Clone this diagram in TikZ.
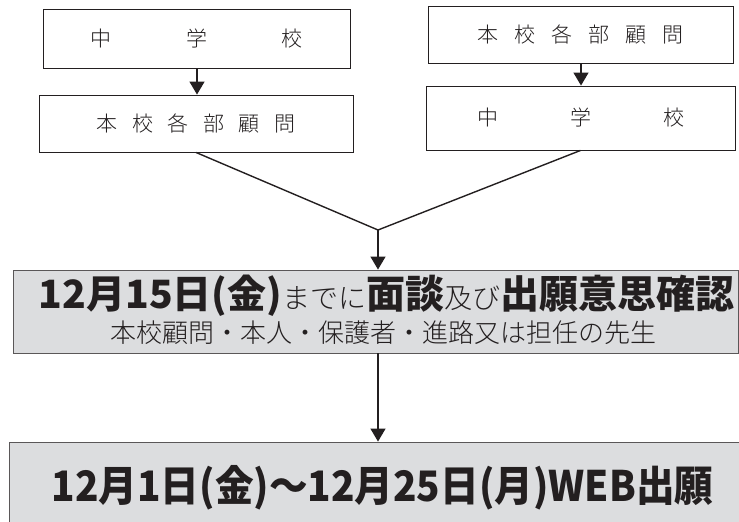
\documentclass[tikz,border=0pt]{standalone}
\usepackage{fontspec}
\usepackage{graphicx}
\usetikzlibrary{arrows.meta}
\newfontfamily\jp{Noto Sans CJK JP}
\newfontfamily\jplight{Noto Sans CJK JP}[UprightFont=* Light]
\definecolor{ink}{HTML}{231F20}
\definecolor{greyfill}{HTML}{DCDDDF}
\tikzset{
  whitebox/.style={draw=ink, line width=0.9pt, fill=white, inner sep=0pt, font=\jplight\fontsize{21}{21}\selectfont, text=ink},
  greybox/.style={draw=ink!75, line width=0.9pt, fill=greyfill, inner sep=0pt},
  conn/.style={draw=ink, line width=1.4pt},
  arr/.style={conn, -{Triangle[width=15pt,length=13pt]}},
}
\begin{document}
\begin{tikzpicture}[x=1pt,y=-1pt]
\useasboundingbox (0,0) rectangle (739,522);
% top boxes
\node[whitebox, minimum width=307pt, minimum height=59pt] (lb1) at (196.5,38.5)
  {中\hspace{74.5pt}学\hspace{74.5pt}校};
\node[whitebox, minimum width=314pt, minimum height=57pt] (lb2) at (196,123.5)
  {本\hspace{14.5pt}校\hspace{14.5pt}各\hspace{14.5pt}部\hspace{14.5pt}顧\hspace{14.5pt}問};
\node[whitebox, minimum width=305pt, minimum height=57pt] (rb1) at (580.5,34.5)
  {本\hspace{16pt}校\hspace{16pt}各\hspace{16pt}部\hspace{16pt}顧\hspace{16pt}問};
\node[whitebox, minimum width=309pt, minimum height=64pt] (rb2) at (580.5,118)
  {中\hspace{72pt}学\hspace{72pt}校};
% grey boxes
\node[greybox, minimum width=725pt, minimum height=83pt] (g1) at (375.5,311.5) {};
\node[greybox, minimum width=731pt, minimum height=100pt] (g2) at (374.5,492) {};
\node[text=ink, font=\jp] (t1) at (386.5,296)
  {\bfseries\fontsize{39}{39}\selectfont 12月15日(金){\jplight\mdseries\fontsize{28}{28}\selectfont までに}面談{\jplight\mdseries\fontsize{28}{28}\selectfont 及び}出願意思確認};
\node[text=ink, font=\jplight\fontsize{26}{26}\selectfont] (t2) at (383.5,333)
  {本校顧問・本人・保護者・進路又は担任の先生};
\node[text=ink, font=\jp\bfseries\fontsize{42}{42}\selectfont] (t3) at (382.5,488)
  {\scalebox{0.92}[1]{12月1日(金)～12月25日(月)WEB出願}};
% connectors
\coordinate (meet) at (378,230);
\draw[arr] (lb1.south -| 197,0) -- (lb2.north -| 197,0);
\draw[arr] (rb1.south -| 581,0) -- (rb2.north -| 581,0);
\draw[conn] (lb2.south) -- (meet);
\draw[conn] (rb2.south) -- (meet);
\draw[arr] (meet) -- (meet |- g1.north);
\draw[arr] (meet |- g1.south) -- (meet |- g2.north);
\end{tikzpicture}
\end{document}
